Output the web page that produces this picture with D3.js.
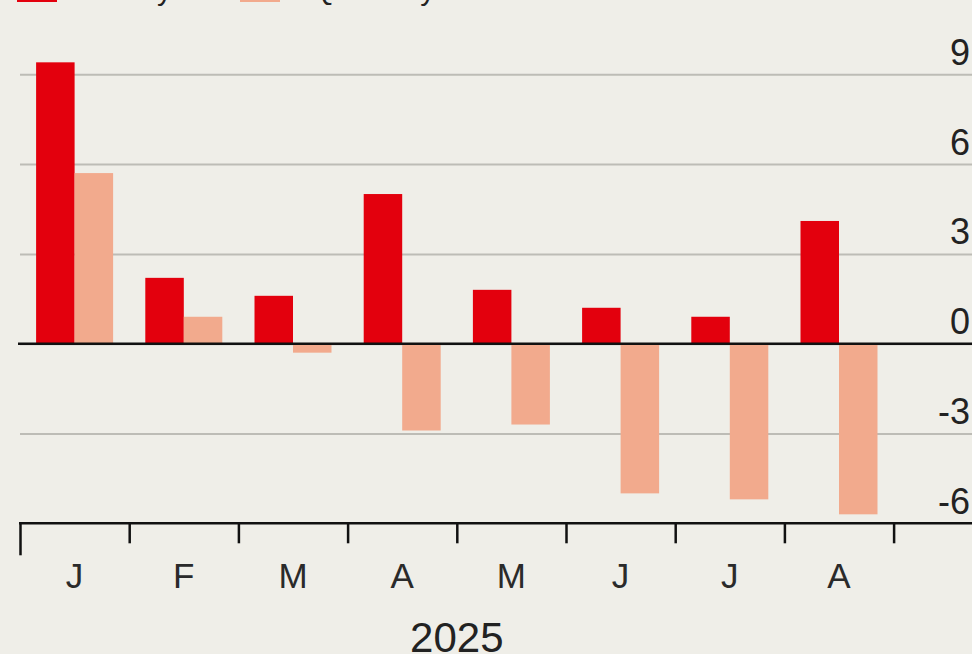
<!DOCTYPE html>
<html>
<head>
<meta charset="utf-8">
<script src="https://cdn.jsdelivr.net/npm/d3@7"></script>
<style>
    html, body { margin: 0; padding: 0; background: #efeee8; overflow: hidden; }
    svg { display: block; font-family: Arial, "Liberation Sans", sans-serif; }
</style>
</head>
<body>
<svg id="chart"></svg>
<script>
// Data
const months = ["Jan", "Feb", "Mar", "Apr", "May", "Jun", "Jul", "Aug"];
const monthLabels = ["J", "F", "M", "A", "M", "J", "J", "A"];
const seriesKeys = ["first", "second"];
const firstValues = [9.4, 2.2, 1.6, 5.0, 1.8, 1.2, 0.9, 4.1];
const secondValues = [5.7, 0.9, -0.3, -2.9, -2.7, -5.0, -5.2, -5.7];
const yTicks = [-6, -3, 0, 3, 6, 9];
const legendLabels = ["Monthly", "Quarterly"];
const yearLabel = "2025";

const colors = { first: "#e3000d", second: "#f2aa8d" };

//Setup
const width = 972, height = 654;
const margins = { top: 74.3, bottom: 130.7, left: 20, right: 0 };
const translate = (x, y) => `translate(${x}, ${y})`;

const svg = d3.select("#chart")
    .attr("width", width)
    .attr("height", height);

svg.append("rect")
    .attr("width", width)
    .attr("height", height)
    .attr("fill", "#efeee8");

//Scales
const x = d3.scaleBand()
    .domain(months)
    .range([margins.left, 893.6])
    .padding(0);

const xTicks = d3.scaleLinear()
    .domain([0, months.length])
    .range(x.range());

const groupWidth = 77;
const xSub = d3.scaleBand()
    .domain(seriesKeys)
    .range([x.bandwidth() / 2 - groupWidth / 2, x.bandwidth() / 2 + groupWidth / 2]);

const y = d3.scaleLinear()
    .domain([-6, 9])
    .range([height - margins.bottom, margins.top]);

//Gridlines + labels (right side)
const yAxis = d3.axisLeft(y)
    .tickValues(yTicks)
    .tickSize(width - margins.left)
    .tickFormat(d => String(d));
const yAxisG = svg.append("g")
    .attr("class", "y-axis")
    .attr("transform", translate(width, 0))
    .call(yAxis);
yAxisG.select(".domain").remove();
yAxisG.selectAll(".tick line")
    .attr("stroke", d => d === -6 ? "none" : "#bdbcb6")
    .attr("stroke-width", 2);
yAxisG.selectAll(".tick text")
    .attr("x", -2)
    .attr("dy", -10)
    .attr("text-anchor", "end")
    .attr("fill", "#222")
    .attr("font-size", 36);

//Bars
const data = months.map((m, i) => ({ month: m, first: firstValues[i], second: secondValues[i] }));
const groups = svg.append("g")
    .selectAll("g.month")
    .data(data)
    .join("g")
    .attr("class", "month")
    .attr("transform", d => translate(x(d.month), 0));

groups.selectAll("rect")
    .data(d => seriesKeys.map(k => ({ key: k, value: d[k] })))
    .join("rect")
    .attr("x", d => xSub(d.key))
    .attr("width", xSub.bandwidth())
    .attr("y", d => y(Math.max(0, d.value)))
    .attr("height", d => Math.abs(y(d.value) - y(0)))
    .attr("fill", d => colors[d.key]);

//Zero line
svg.append("line")
    .attr("x1", margins.left - 2)
    .attr("x2", width)
    .attr("y1", y(0))
    .attr("y2", y(0))
    .attr("stroke", "#111")
    .attr("stroke-width", 2.5);

//X axis: ticks at month boundaries
const tickAxis = d3.axisBottom(xTicks)
    .tickValues(d3.range(months.length + 1))
    .tickSize(20)
    .tickFormat("");
const tickAxisG = svg.append("g")
    .attr("class", "x-ticks")
    .attr("transform", translate(0, y(-6)))
    .call(tickAxis);
tickAxisG.select(".domain").remove();
tickAxisG.selectAll(".tick line")
    .attr("stroke", "#111")
    .attr("stroke-width", 2.5)
    .attr("y2", d => d === 0 ? 32 : 20);

svg.append("line")
    .attr("x1", margins.left - 1)
    .attr("x2", width)
    .attr("y1", y(-6))
    .attr("y2", y(-6))
    .attr("stroke", "#111")
    .attr("stroke-width", 2.5);

//X axis: month letters
const monthAxis = d3.axisBottom(x)
    .tickSize(0)
    .tickFormat((d, i) => monthLabels[i]);
const monthAxisG = svg.append("g")
    .attr("class", "x-axis")
    .attr("transform", translate(0, y(-6)))
    .call(monthAxis);
monthAxisG.select(".domain").remove();
monthAxisG.selectAll(".tick text")
    .attr("y", 65)
    .attr("dy", 0)
    .attr("fill", "#2a2a2a")
    .attr("font-size", 35);

//Year label
svg.append("text")
    .attr("x", (x.range()[0] + x.range()[1]) / 2)
    .attr("y", 652)
    .attr("text-anchor", "middle")
    .attr("fill", "#222")
    .attr("font-size", 42)
    .text(yearLabel);

//Legend (cut off at top)
const legend = svg.append("g")
    .selectAll("g.legend-item")
    .data(seriesKeys)
    .join("g")
    .attr("class", "legend-item")
    .attr("transform", (d, i) => translate(i === 0 ? 17 : 240, 0));
legend.append("rect")
    .attr("x", 0)
    .attr("y", -20)
    .attr("width", 40)
    .attr("height", 22)
    .attr("fill", d => colors[d]);
legend.append("text")
    .attr("x", (d, i) => i === 0 ? 50 : 72)
    .attr("y", 0)
    .attr("fill", "#222")
    .attr("font-size", 30)
    .text((d, i) => legendLabels[i]);
</script>
</body>
</html>
